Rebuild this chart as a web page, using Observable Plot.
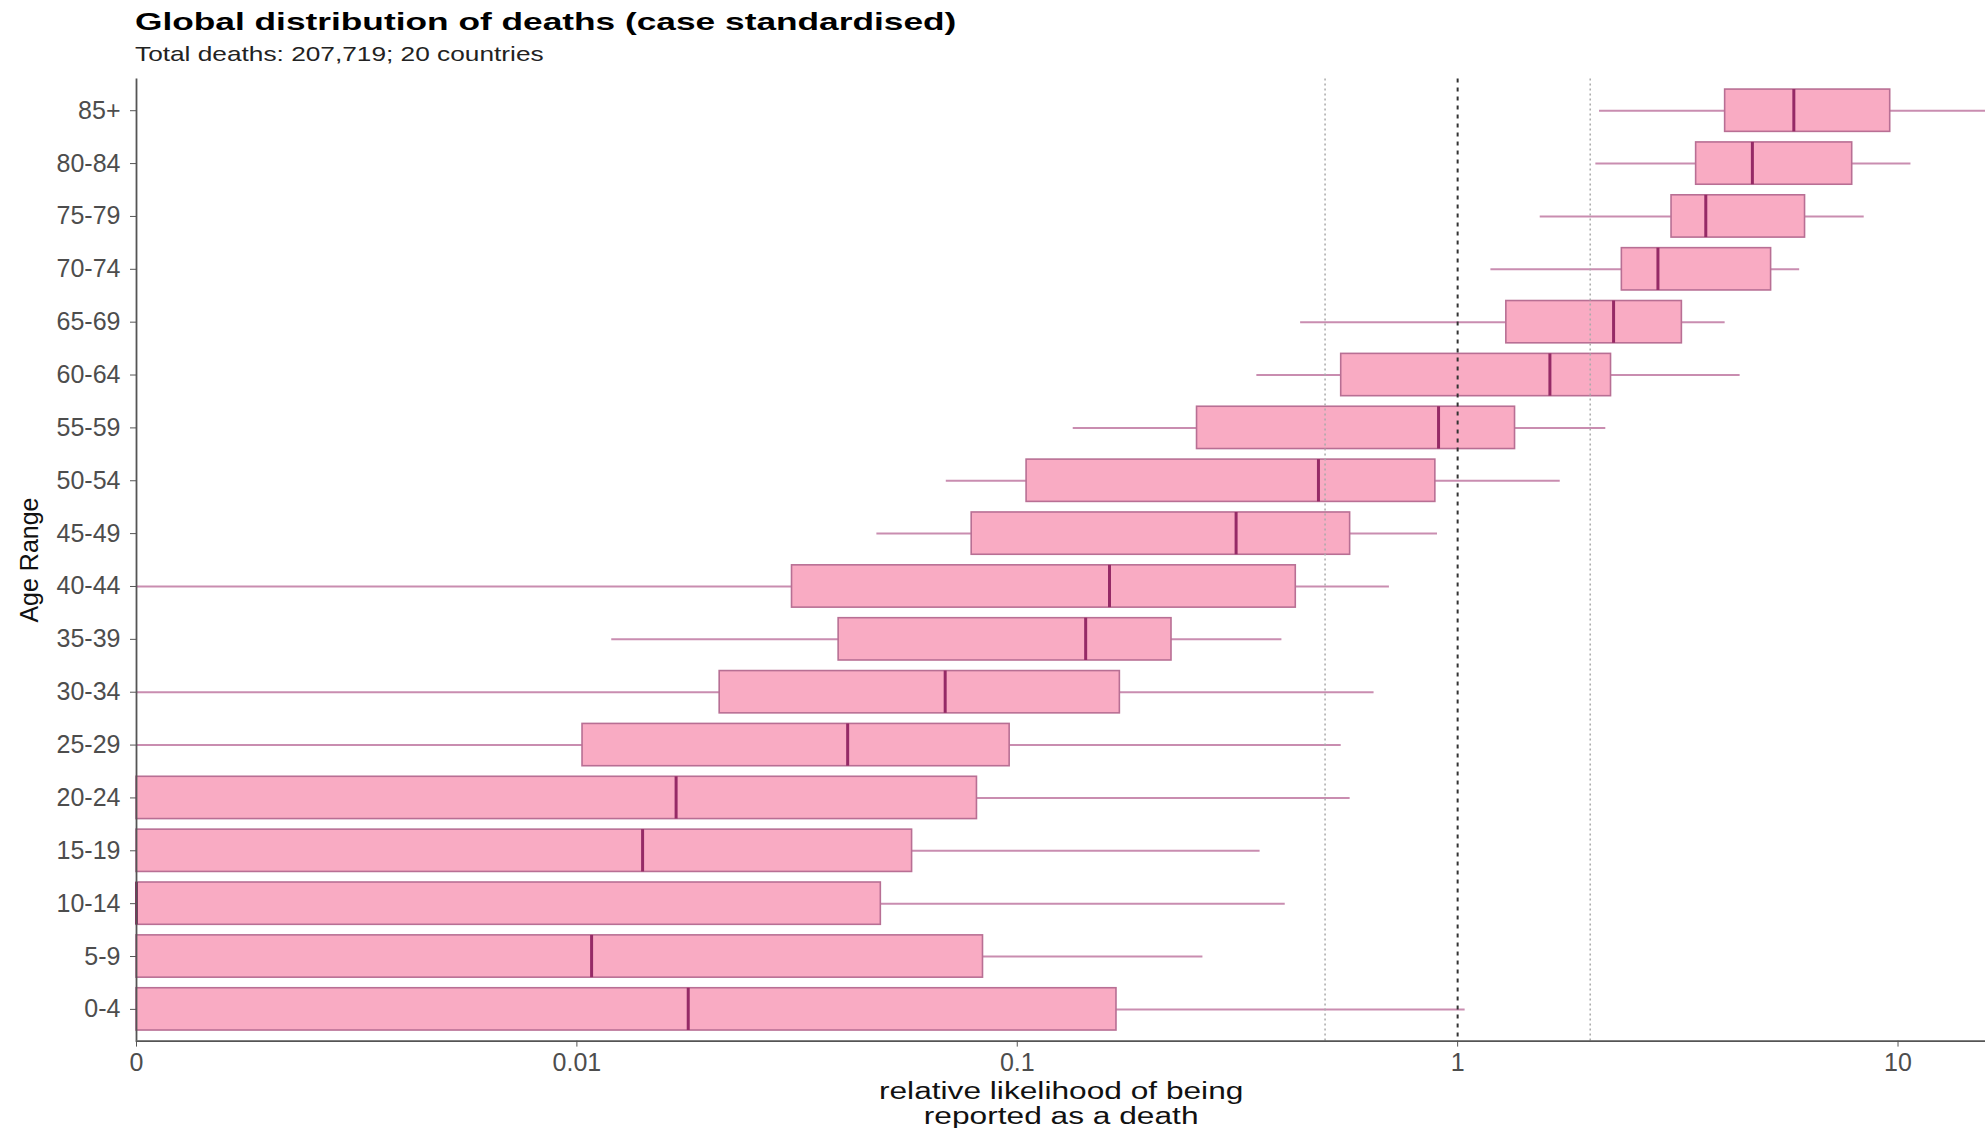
<!DOCTYPE html>
<html><head><meta charset="utf-8">
<script src="https://cdn.jsdelivr.net/npm/d3@7"></script>
<script src="https://cdn.jsdelivr.net/npm/@observablehq/plot@0.6"></script>
<style>
html,body{margin:0;padding:0;background:#fff;overflow:hidden;}
#wrap{position:relative;width:1985px;height:1128px;font-family:"Liberation Sans",Arial,sans-serif;}
#header{position:relative;height:70px;}
#title{position:absolute;left:135px;top:10px;font-size:24px;line-height:1;font-weight:bold;color:#000;transform:scaleX(1.47);transform-origin:left center;white-space:nowrap;}
#subtitle{position:absolute;left:135px;top:43px;font-size:21px;line-height:1;color:#222;transform:scaleX(1.25);transform-origin:left center;white-space:nowrap;}
#chart svg{display:block;}
</style></head>
<body>
<div id="wrap"><div id="header"><div id="title"></div><div id="subtitle"></div></div><div id="chart"></div></div>
<script>
const titleText = "Global distribution of deaths (case standardised)";
const subtitleText = "Total deaths: 207,719; 20 countries";
const xLabel = "relative likelihood of being\nreported as a death";
const yLabel = "Age Range";

const ageGroups   = ["0-4","5-9","10-14","15-19","20-24","25-29","30-34","35-39","40-44","45-49","50-54","55-59","60-64","65-69","70-74","75-79","80-84","85+"];
const whiskerLow  = [0, 0, 0, 0, 0, 0, 0, 0.0120, 0, 0.048, 0.069, 0.134, 0.35, 0.44, 1.19, 1.54, 2.06, 2.10];
const lowerQuart  = [0, 0, 0, 0, 0, 0.0103, 0.0211, 0.0393, 0.0308, 0.0788, 0.105, 0.256, 0.544, 1.29, 2.36, 3.06, 3.48, 4.05];
const medians     = [0.0179, 0.0108, 0, 0.0141, 0.0168, 0.0412, 0.0686, 0.143, 0.162, 0.314, 0.483, 0.905, 1.62, 2.26, 2.85, 3.66, 4.67, 5.8];
const upperQuart  = [0.168, 0.0836, 0.049, 0.0577, 0.081, 0.0961, 0.171, 0.224, 0.429, 0.570, 0.89, 1.35, 2.23, 3.23, 5.15, 6.15, 7.87, 9.6];
const whiskerHigh = [1.04, 0.264, 0.406, 0.356, 0.570, 0.544, 0.646, 0.399, 0.70, 0.90, 1.71, 2.17, 4.38, 4.05, 5.98, 8.38, 10.7, 17];

const refDotted = [0.5, 2];
const refDashed = [1];
const xTicks = [0.001, 0.01, 0.1, 1, 10];
const xTickLabels = ["0", "0.01", "0.1", "1", "10"];
const xFloor = 0.001, xMax = 15.8;

document.getElementById("title").textContent = titleText;
document.getElementById("subtitle").textContent = subtitleText;

const rows = ageGroups.map((a, i) => ({
  age: a, lo: whiskerLow[i], q1: lowerQuart[i], med: medians[i], q3: upperQuart[i], hi: whiskerHigh[i]
}));
const cl = v => Math.max(v, xFloor);

const axisColor = "#555";
const tickLabelColor = "#4d4d4d";

const chart = Plot.plot({
  width: 1985, height: 1058,
  marginTop: 8.5, marginBottom: 87.4, marginLeft: 136, marginRight: 0,
  style: {fontFamily: '"Liberation Sans", Arial, sans-serif', fontSize: "25px", background: "#fff", overflow: "visible"},
  x: {type: "log", domain: [xFloor, xMax]},
  y: {domain: ageGroups.slice().reverse(), padding: 0.2, round: false},
  marks: [
    Plot.ruleY(rows, {y: "age", x1: d => cl(d.lo), x2: d => cl(d.hi), stroke: "#c98db0", strokeWidth: 2, clip: true}),
    Plot.barX(rows, {y: "age", x1: d => cl(d.q1), x2: d => cl(d.q3), fill: "#f9abc3", stroke: "#b86f94", strokeWidth: 1.6}),
    Plot.tickX(rows, {y: "age", x: d => cl(d.med), stroke: "#952a66", strokeWidth: 3}),
    Plot.ruleX(refDotted, {stroke: "#aaa", strokeWidth: 1.5, strokeDasharray: "2,3"}),
    Plot.ruleX(refDashed, {stroke: "#333", strokeWidth: 2, strokeDasharray: "4,5"}),
    Plot.ruleX([xFloor], {stroke: axisColor, strokeWidth: 1.8}),
    Plot.frame({anchor: "bottom", stroke: axisColor, strokeWidth: 1.8}),
    Plot.axisX({ticks: xTicks, tickFormat: d => xTickLabels[xTicks.indexOf(d)], tickSize: 6, tickPadding: 6, label: null, stroke: axisColor, fill: tickLabelColor, fontSize: 25}),
    Plot.axisY({tickSize: 6, tickPadding: 10, label: yLabel, labelAnchor: "center", labelOffset: 116, labelArrow: "none", stroke: axisColor, fill: tickLabelColor, fontSize: 25}),
    Plot.text([xLabel], {frameAnchor: "bottom", dy: 39, lineAnchor: "top", fontSize: 24, lineHeight: 1.08, fill: "#111"})
  ]
});
document.getElementById("chart").appendChild(chart);

// colour the y axis title darker and widen the x axis title like the reference
const svg = d3.select(chart);
svg.selectAll("text").filter(function(){ return this.textContent === yLabel; }).attr("fill", "#111");
svg.selectAll("text").filter(function(){ return this.textContent.startsWith("relative"); }).each(function(){
  const g = this.parentNode;
  const bb = g.getBBox();
  const cx = bb.x + bb.width / 2;
  const wrapper = document.createElementNS("http://www.w3.org/2000/svg", "g");
  g.parentNode.insertBefore(wrapper, g);
  wrapper.appendChild(g);
  wrapper.setAttribute("transform", `translate(${cx},0) scale(1.32,1) translate(${-cx},0)`);
});
</script>
</body></html>
